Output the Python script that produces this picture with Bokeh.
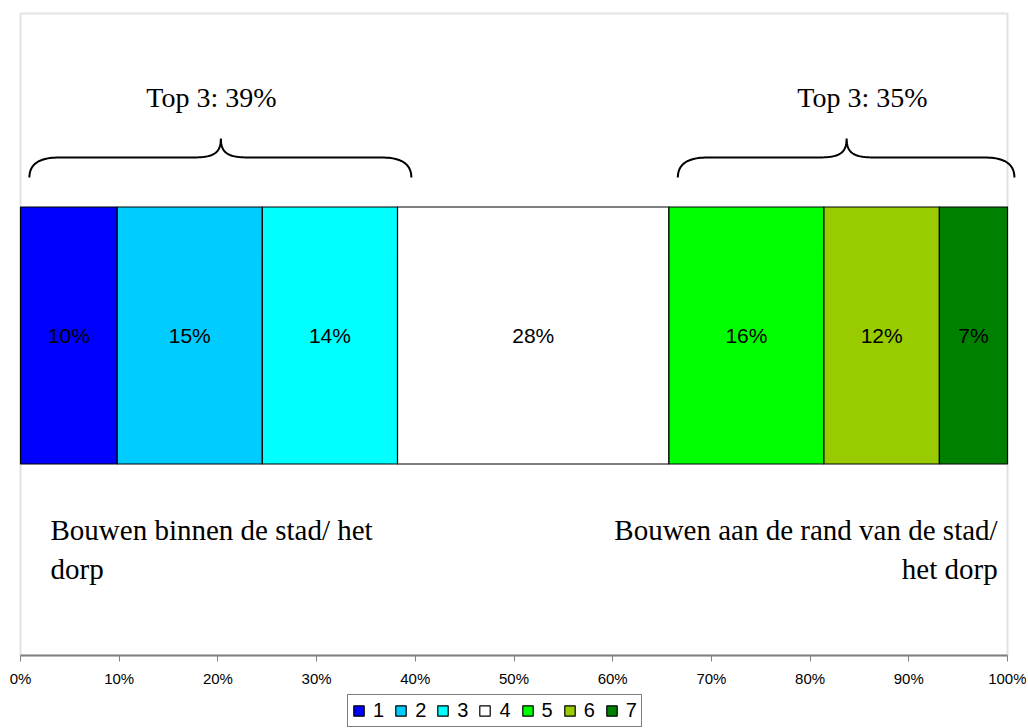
import numpy as np
from bokeh.plotting import figure
from bokeh.models import (Range1d, FixedTicker, PrintfTickFormatter, Legend,
                          LegendItem, ColumnDataSource, BoxAnnotation)
from bokeh.core.properties import value
from bokeh.embed import file_html
from bokeh.resources import INLINE

# ---------------- data ----------------
categories = ["1", "2", "3", "4", "5", "6", "7"]
shares = [9.8, 14.7, 13.7, 27.5, 15.7, 11.7, 6.9]
share_labels = ["10%", "15%", "14%", "28%", "16%", "12%", "7%"]
colors = ["#0000FF", "#00CCFF", "#00FFFF", "#FFFFFF", "#00FF00", "#99CC00", "#008000"]
x_ticks = [0, 10, 20, 30, 40, 50, 60, 70, 80, 90, 100]
top3_labels = ["Top 3: 39%", "Top 3: 35%"]
top3_x = [19.35, 85.3]
brace_start = [0.9, 66.6]
brace_end = [39.6, 100.7]
brace_tip = [20.3, 83.7]
left_text = ["Bouwen binnen de stad/ het", "dorp"]
right_text = ["Bouwen aan de rand van de stad/", "het dorp"]

# ---------------- layout constants ----------------
W, H = 1026, 728
PX_PER_PCT = 9.87           # 100 % spans 987 px
X0_PX = 20                  # pixel position of 0 %
AXIS_PX = 655               # pixel row of the value axis
PLOT_TOP = 642              # plot-area height above the axis
BAR_Y = 320
BAR_H = 257
SANS = value("Liberation Sans")
SERIF = value("Liberation Serif")

right_edges = np.cumsum(shares)
left_edges = right_edges - np.array(shares)
centers = (left_edges + right_edges) / 2

x_lo = -X0_PX / PX_PER_PCT
x_hi = (W - X0_PX) / PX_PER_PCT
p = figure(width=W, height=H, output_backend="svg", toolbar_location=None,
           x_range=Range1d(x_lo, x_hi), y_range=Range1d(AXIS_PX - H, AXIS_PX),
           y_axis_location=None, min_border=0, min_border_left=0,
           min_border_right=0, min_border_top=0, min_border_bottom=0)
p.grid.visible = False
p.outline_line_color = None
p.background_fill_color = "white"
p.border_fill_color = "white"

# plot-area border
p.add_layout(BoxAnnotation(left=0, right=100, bottom=0, top=PLOT_TOP,
                           fill_alpha=0, line_color="#a0a0a0", line_width=2,
                           level="underlay"))

xa = p.xaxis[0]
xa.fixed_location = 0
xa.ticker = FixedTicker(ticks=x_ticks)
xa.formatter = PrintfTickFormatter(format="%d%%")
xa.major_label_text_font = "Liberation Sans"
xa.major_label_text_font_size = "15px"
xa.major_label_text_color = "black"
xa.major_label_standoff = 8
xa.major_tick_in = 0
xa.major_tick_out = 6
xa.minor_tick_line_color = None
xa.axis_line_color = "#808080"
xa.axis_line_width = 2
xa.major_tick_line_color = "#808080"
xa.major_tick_line_width = 1
xa.bounds = (0, 100)

items = []
for i, c in enumerate(categories):
    src = ColumnDataSource(dict(y=[BAR_Y], left=[left_edges[i]], right=[right_edges[i]]))
    r = p.hbar(y="y", left="left", right="right", height=BAR_H, source=src,
               fill_color=colors[i], line_color="black", line_width=1.2)
    items.append(LegendItem(label=c, renderers=[r]))

p.text(x=centers, y=[BAR_Y] * len(categories), text=share_labels,
       text_font=SANS, text_font_size="21px", text_align="center",
       text_baseline="middle", text_color="black")

# braces
def brace(x0, x1, xm, y_end, y_bar, y_tip, r_end=3.0, r_tip=3.0):
    t = np.linspace(0, 1, 25)
    def quad(p0, p1, p2):
        return ((1 - t) ** 2)[:, None] * p0 + (2 * (1 - t) * t)[:, None] * p1 + (t ** 2)[:, None] * p2
    def cub(p0, p1, p2, p3):
        return (((1 - t) ** 3)[:, None] * p0 + (3 * (1 - t) ** 2 * t)[:, None] * p1 +
                (3 * (1 - t) * t ** 2)[:, None] * p2 + (t ** 3)[:, None] * p3)
    a = np.array
    seg1 = quad(a([x0, y_end]), a([x0, y_bar]), a([x0 + r_end, y_bar]))
    seg2 = cub(a([xm - r_tip, y_bar]), a([xm - r_tip * 0.3, y_bar]), a([xm, y_bar + 3]), a([xm, y_tip]))
    seg3 = cub(a([xm, y_tip]), a([xm, y_bar + 3]), a([xm + r_tip * 0.3, y_bar]), a([xm + r_tip, y_bar]))
    seg4 = quad(a([x1 - r_end, y_bar]), a([x1, y_bar]), a([x1, y_end]))
    pts = np.vstack([seg1, seg2, seg3, seg4])
    return list(pts[:, 0]), list(pts[:, 1])

bx, by = [], []
for s, e, m in zip(brace_start, brace_end, brace_tip):
    xs, ys = brace(s, e, m, 478, 498, 517)
    bx.append(xs)
    by.append(ys)
p.multi_line(xs=bx, ys=by, line_color="black", line_width=2)

p.text(x=top3_x, y=[558, 558], text=top3_labels, text_font=SERIF,
       text_font_size="28px", text_align="center", text_baseline="middle",
       text_color="black")

p.text(x=[3.04, 3.04], y=[126, 87], text=left_text, text_font=SERIF,
       text_font_size="29px", text_align="left", text_baseline="middle",
       text_color="black")
p.text(x=[99.0, 99.0], y=[126, 87], text=right_text, text_font=SERIF,
       text_font_size="29px", text_align="right", text_baseline="middle",
       text_color="black")

legend = Legend(items=items, orientation="horizontal", location=(347, 1),
                glyph_width=13, glyph_height=13, label_standoff=8, label_width=0,
                spacing=10, padding=4, margin=0,
                label_text_font="Liberation Sans", label_text_font_size="20px",
                label_text_color="black", label_height=20,
                border_line_color="black", border_line_width=1,
                background_fill_alpha=1.0, background_fill_color="white")
p.add_layout(legend, "center")

open("out.html", "w").write(file_html(p, INLINE))
